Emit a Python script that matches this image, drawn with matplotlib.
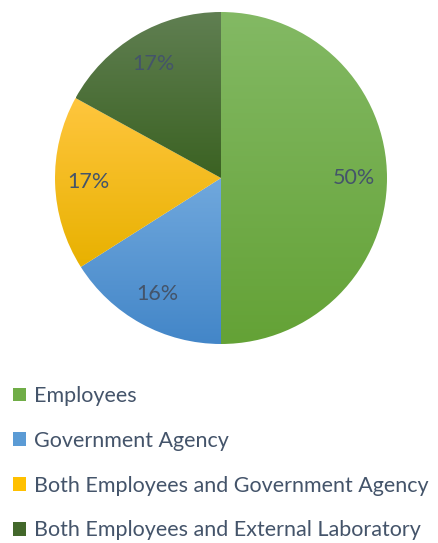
import matplotlib.pyplot as plt
import numpy as np
from matplotlib.colors import LinearSegmentedColormap
from matplotlib.patches import Patch

plt.rcParams["font.family"] = ["Lato", "DejaVu Sans"]

labels = [
    "Employees",
    "Government Agency",
    "Both Employees and Government Agency",
    "Both Employees and External Laboratory",
]
shares = [50, 16, 17, 17]

# top / bottom colour of the vertical gradient in each slice
tops = ["#83b964", "#70a8dd", "#ffc63e", "#607f52"]
bottoms = ["#64a236", "#4386c8", "#e8b100", "#3b6222"]
solids = ["#70ad47", "#5b9bd5", "#ffc000", "#43682b"]

text_color = "#44546a"
fs = 15.5

fig = plt.figure(figsize=(4.38, 5.43), dpi=100)
ax = fig.add_axes([55 / 438, 1 - 344 / 543, 332 / 438, 332 / 543])

wedges, texts, autotexts = ax.pie(
    shares,
    startangle=90,
    counterclock=False,
    autopct="%1.0f%%",
    pctdistance=0.8,
    textprops={"color": text_color, "fontsize": fs},
)

for w, top, bot in zip(wedges, tops, bottoms):
    w.set_facecolor("none")
    w.set_edgecolor("none")
    ext = w.get_path().get_extents(w.get_patch_transform())
    cmap = LinearSegmentedColormap.from_list("grad", [bot, top])
    grad = np.linspace(0, 1, 256).reshape(-1, 1)
    img = ax.imshow(
        grad,
        cmap=cmap,
        origin="lower",
        aspect="auto",
        extent=[ext.x0, ext.x1, ext.y0, ext.y1],
        zorder=0,
        interpolation="bilinear",
    )
    img.set_clip_path(w)

ax.set_xlim(-1, 1)
ax.set_ylim(-1, 1)
ax.set_aspect("equal")
ax.axis("off")

handles = [Patch(facecolor=c, edgecolor="none") for c in solids]
fig.legend(
    handles,
    labels,
    loc="upper left",
    bbox_to_anchor=(13 / 438, 1 - 386 / 543),
    frameon=False,
    fontsize=fs,
    labelcolor=text_color,
    handlelength=0.6,
    handleheight=0.6,
    handletextpad=0.37,
    labelspacing=1.15,
    borderpad=0,
    borderaxespad=0,
)

fig.savefig("out.png", dpi=100)
